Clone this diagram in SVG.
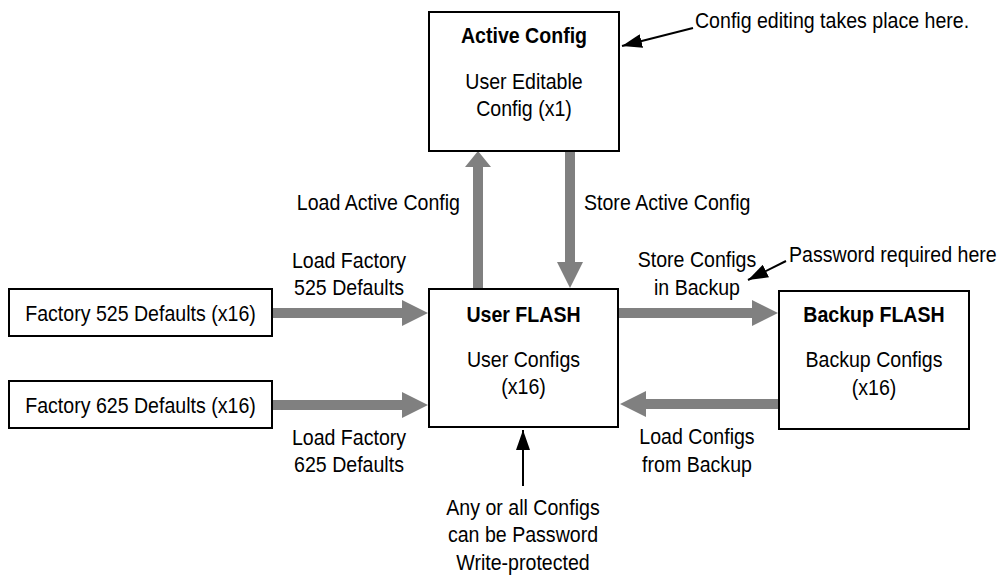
<svg xmlns="http://www.w3.org/2000/svg" width="1000" height="576" viewBox="0 0 1000 576">
<style>
text{font-family:"Liberation Sans",Arial,sans-serif;font-size:22px;fill:#000}
.t{font-weight:bold}
.c{text-anchor:middle}
.box{fill:#fff;stroke:#000;stroke-width:2}
.big{fill:#808080;stroke:none}
.ann{stroke:#000;stroke-width:2;fill:none;marker-end:url(#ah)}
</style>
<defs>
<marker id="ah" viewBox="0 0 20 14" refX="20" refY="7" markerWidth="20" markerHeight="14" markerUnits="userSpaceOnUse" orient="auto">
<path d="M0,0 L20,7 L0,14 Z" fill="#000"/>
</marker>
</defs>
<rect width="1000" height="576" fill="#fff"/>
<g id="connectors">
<polygon class="big" points="473,288 473,167 465,167 478,151 491,167 483,167 483,288"/>
<polygon class="big" points="565,152 565,262 557,262 570,288 583,262 575,262 575,152"/>
<polygon class="big" points="272,308 402,308 402,300 428,313 402,326 402,318 272,318"/>
<polygon class="big" points="272,400 402,400 402,392 428,405 402,418 402,410 272,410"/>
<polygon class="big" points="618,308 752,308 752,300 778,313 752,326 752,318 618,318"/>
<polygon class="big" points="779,399 646,399 646,391 620,404 646,417 646,409 779,409"/>
<line class="ann" x1="693" y1="28" x2="622" y2="46"/>
<line class="ann" x1="786" y1="261" x2="748" y2="280"/>
<line class="ann" x1="523" y1="486" x2="523" y2="430"/>
<text x="460" y="210" text-anchor="end" transform="matrix(0.89,0,0,1,50.6,0)">Load Active Config</text>
<text x="584" y="210" transform="matrix(0.89,0,0,1,64.24,0)">Store Active Config</text>
<g transform="matrix(0.89,0,0,1,38.39,0)">
<text class="c" x="349" y="268">Load Factory</text>
<text class="c" x="349" y="295">525 Defaults</text>
<text class="c" x="349" y="445">Load Factory</text>
<text class="c" x="349" y="472">625 Defaults</text>
</g>
<g transform="matrix(0.89,0,0,1,76.67,0)">
<text class="c" x="697" y="267">Store Configs</text>
<text class="c" x="697" y="295">in Backup</text>
<text class="c" x="697" y="444">Load Configs</text>
<text class="c" x="697" y="472">from Backup</text>
</g>
<text x="695" y="28" transform="matrix(0.89,0,0,1,76.45,0)">Config editing takes place here.</text>
<text x="789" y="262" transform="matrix(0.89,0,0,1,86.79,0)">Password required here</text>
<g transform="matrix(0.89,0,0,1,57.53,0)">
<text class="c" x="523" y="515">Any or all Configs</text>
<text class="c" x="523" y="542">can be Password</text>
<text class="c" x="523" y="570">Write-protected</text>
</g>
</g>
<g id="active-config">
<rect class="box" x="429" y="12" width="190" height="139"/>
<g transform="matrix(0.89,0,0,1,57.64,0)">
<text class="c t" x="524" y="43">Active Config</text>
<text class="c" x="524" y="89">User Editable</text>
<text class="c" x="524" y="116">Config (x1)</text>
</g>
</g>
<g id="user-flash">
<rect class="box" x="429" y="289" width="189" height="138"/>
<g transform="matrix(0.89,0,0,1,57.585,0)">
<text class="c t" x="523.5" y="322">User FLASH</text>
<text class="c" x="523.5" y="367">User Configs</text>
<text class="c" x="523.5" y="394">(x16)</text>
</g>
</g>
<g id="backup-flash">
<rect class="box" x="779" y="291" width="190" height="138"/>
<g transform="matrix(0.89,0,0,1,96.14,0)">
<text class="c t" x="874" y="322">Backup FLASH</text>
<text class="c" x="874" y="367">Backup Configs</text>
<text class="c" x="874" y="395">(x16)</text>
</g>
</g>
<g id="factory-525">
<rect class="box" x="9" y="289" width="263" height="47"/>
<text class="c" x="140.5" y="321" transform="matrix(0.89,0,0,1,15.455,0)">Factory 525 Defaults (x16)</text>
</g>
<g id="factory-625">
<rect class="box" x="9" y="381" width="263" height="47"/>
<text class="c" x="140.5" y="413" transform="matrix(0.89,0,0,1,15.455,0)">Factory 625 Defaults (x16)</text>
</g>
</svg>
